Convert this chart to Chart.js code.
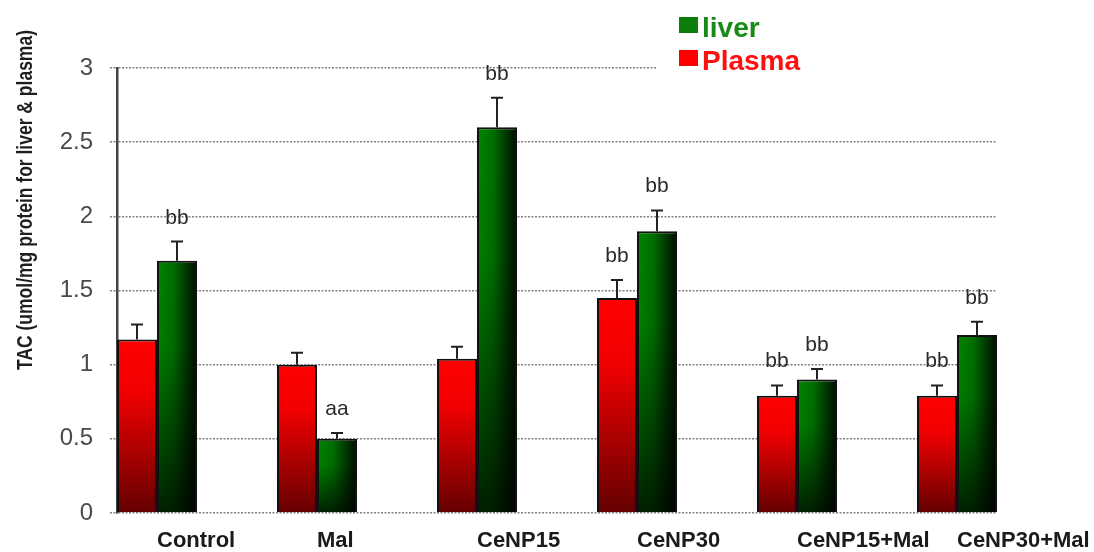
<!DOCTYPE html>
<html>
<head>
<meta charset="utf-8">
<script src="https://cdn.jsdelivr.net/npm/chart.js@4.4.1/dist/chart.umd.min.js"></script>
<style>
  html, body { margin: 0; padding: 0; background: #fff; }
  canvas { display: block; }
</style>
</head>
<body>
<canvas id="tac" width="1094" height="552"></canvas>
<script>
// Total antioxidant capacity per treatment group
const categories = ['Control', 'Mal', 'CeNP15', 'CeNP30', 'CeNP15+Mal', 'CeNP30+Mal'];
const plasma     = [1.17, 1.00, 1.04, 1.45, 0.79, 0.79];
const plasmaErr  = [0.10, 0.08, 0.08, 0.12, 0.07, 0.07];
const liver      = [1.70, 0.50, 2.60, 1.90, 0.90, 1.20];
const liverErr   = [0.13, 0.04, 0.20, 0.14, 0.07, 0.09];
const plasmaSig  = ['', '', '', 'bb', 'bb', 'bb'];
const liverSig   = ['bb', 'aa', 'bb', 'bb', 'bb', 'bb'];
const yTicks     = [0, 0.5, 1, 1.5, 2, 2.5, 3];

const FONT = "'Liberation Sans', Arial, Helvetica, sans-serif";
const GROUP_SHARE = 0.5;   // two bars fill half of each category slot

// pixel box of one bar, taken from the chart scales
function barBox(chart, seriesIndex, i, value) {
  const xs = chart.scales.x, ys = chart.scales.y;
  const step = xs.getPixelForValue(1) - xs.getPixelForValue(0);
  const w = step * GROUP_SHARE / 2;
  const center = xs.getPixelForValue(i);
  return {
    left: center - w + seriesIndex * w,
    w: w,
    top: ys.getPixelForValue(value),
    bottom: ys.getPixelForValue(0)
  };
}

// red: bright at the top, dark maroon at the base
function plasmaFill(c) {
  const chart = c.chart;
  if (!chart.chartArea || c.type !== 'data') return '#ff0000';
  const b = barBox(chart, 0, c.dataIndex, c.raw.y);
  const g = chart.ctx.createLinearGradient(0, b.top, 0, b.bottom);
  g.addColorStop(0, '#ff0000');
  g.addColorStop(0.3, '#f20000');
  g.addColorStop(1, '#640000');
  return g;
}

// green: green to black across the bar, darkening toward the base
function liverFill(c) {
  const chart = c.chart;
  if (!chart.chartArea || c.type !== 'data') return '#007a00';
  const b = barBox(chart, 1, c.dataIndex, c.raw.y);
  const w = Math.max(1, Math.ceil(b.w)), h = Math.max(1, Math.ceil(b.bottom - b.top));
  const off = document.createElement('canvas');
  off.width = w; off.height = h;
  const o = off.getContext('2d');
  const hg = o.createLinearGradient(0, 0, w, 0);
  hg.addColorStop(0, '#008600');
  hg.addColorStop(0.4, '#006e00');
  hg.addColorStop(1, '#000c00');
  o.fillStyle = hg;
  o.fillRect(0, 0, w, h);
  const vg = o.createLinearGradient(0, 0, 0, h);
  vg.addColorStop(0, 'rgba(0,0,0,0)');
  vg.addColorStop(0.35, 'rgba(0,0,0,0.05)');
  vg.addColorStop(1, 'rgba(0,0,0,0.75)');
  o.fillStyle = vg;
  o.fillRect(0, 0, w, h);
  const p = chart.ctx.createPattern(off, 'no-repeat');
  p.setTransform(new DOMMatrix([1, 0, 0, 1, b.left, b.top]));
  return p;
}

const toPoints = arr => arr.map((v, i) => ({ x: i, y: v }));

// white page
const background = {
  id: 'background',
  beforeDraw(chart) {
    const ctx = chart.ctx;
    ctx.save();
    ctx.fillStyle = '#fff';
    ctx.fillRect(0, 0, chart.width, chart.height);
    ctx.restore();
  }
};

// upper error bars plus significance letters
const errorBars = {
  id: 'errorBars',
  afterDatasetsDraw(chart) {
    const ctx = chart.ctx, ys = chart.scales.y;
    const errs = [plasmaErr, liverErr];
    const sigs = [plasmaSig, liverSig];
    chart.data.datasets.forEach((ds, di) => {
      const meta = chart.getDatasetMeta(di);
      meta.data.forEach((el, i) => {
        const v = ds.data[i].y;
        const yTop = ys.getPixelForValue(v + errs[di][i]);
        ctx.save();
        ctx.strokeStyle = '#222';
        ctx.lineWidth = 2;
        ctx.beginPath();
        ctx.moveTo(el.x, el.y);
        ctx.lineTo(el.x, yTop);
        ctx.moveTo(el.x - 6, yTop);
        ctx.lineTo(el.x + 6, yTop);
        ctx.stroke();
        const s = sigs[di][i];
        if (s) {
          ctx.fillStyle = '#2a2a2a';
          ctx.font = '21px ' + FONT;
          ctx.textAlign = 'center';
          ctx.textBaseline = 'alphabetic';
          ctx.fillText(s, el.x, yTop - 18);
        }
        ctx.restore();
      });
    });
  }
};

// stacked legend in the top right and the rotated value-axis title
const decorations = {
  id: 'decorations',
  afterDraw(chart) {
    const ctx = chart.ctx;
    ctx.save();
    ctx.fillStyle = '#fff';
    ctx.fillRect(657, 0, chart.width - 657, 72);

    const items = [
      { text: 'liver', box: '#0a7d0a', color: '#178a17', y: 37 },
      { text: 'Plasma', box: '#ff0000', color: '#ff1010', y: 70 }
    ];
    ctx.font = 'bold 28px ' + FONT;
    ctx.textAlign = 'left';
    ctx.textBaseline = 'alphabetic';
    items.forEach(it => {
      ctx.fillStyle = it.box;
      ctx.fillRect(679, it.y - 20, 19, 16);
      ctx.fillStyle = it.color;
      ctx.fillText(it.text, 702, it.y);
    });

    ctx.translate(26, 200);
    ctx.scale(1.25, 1);
    ctx.rotate(-Math.PI / 2);
    ctx.font = 'bold 17.5px ' + FONT;
    ctx.fillStyle = '#1e1e1e';
    ctx.textAlign = 'center';
    ctx.textBaseline = 'middle';
    ctx.fillText('TAC (umol/mg protein for liver & plasma)', 0, 0);
    ctx.restore();
  }
};

new Chart(document.getElementById('tac'), {
  type: 'bar',
  data: {
    datasets: [
      {
        label: 'Plasma',
        data: toPoints(plasma),
        backgroundColor: plasmaFill,
        borderColor: '#111',
        borderWidth: 2
      },
      {
        label: 'liver',
        data: toPoints(liver),
        backgroundColor: liverFill,
        borderColor: '#111',
        borderWidth: 2
      }
    ]
  },
  options: {
    responsive: false,
    animation: false,
    devicePixelRatio: 1,
    categoryPercentage: GROUP_SHARE,
    barPercentage: 1,
    layout: { padding: { top: 68, right: 97, bottom: 0, left: 0 } },
    plugins: {
      legend: { display: false },
      tooltip: { enabled: false },
      title: { display: false }
    },
    scales: {
      x: {
        type: 'linear',
        offset: false,
        min: -0.25,
        max: categories.length - 1 + 0.25,
        grid: { display: false, drawTicks: false, offset: false },
        border: { display: false },
        afterBuildTicks(scale) {
          scale.ticks = categories.map((_, i) => ({ value: i }));
        },
        afterFit(scale) {
          scale.height = 39;
          scale.paddingLeft = 0;
          scale.paddingRight = 0;
        },
        ticks: {
          align: 'start',
          padding: 15,
          color: '#1a1a1a',
          font: { family: FONT, size: 22, weight: 'bold' },
          maxRotation: 0,
          autoSkip: false,
          callback: v => categories[v]
        }
      },
      y: {
        min: 0,
        max: 3,
        afterBuildTicks(scale) {
          scale.ticks = yTicks.map(v => ({ value: v }));
        },
        afterFit(scale) { scale.width = 117; },
        grid: {
          color: '#808080',
          lineWidth: 1.5,
          drawTicks: true,
          tickLength: 7,
          tickColor: '#808080',
          tickBorderDash: [2, 1.5]
        },
        border: { display: true, color: '#444', width: 2.5, dash: [2, 1.5] },
        ticks: {
          padding: 17,
          color: '#4a4a4a',
          font: { family: FONT, size: 24 },
          callback: v => String(v)
        }
      }
    }
  },
  plugins: [background, errorBars, decorations]
});
</script>
</body>
</html>
